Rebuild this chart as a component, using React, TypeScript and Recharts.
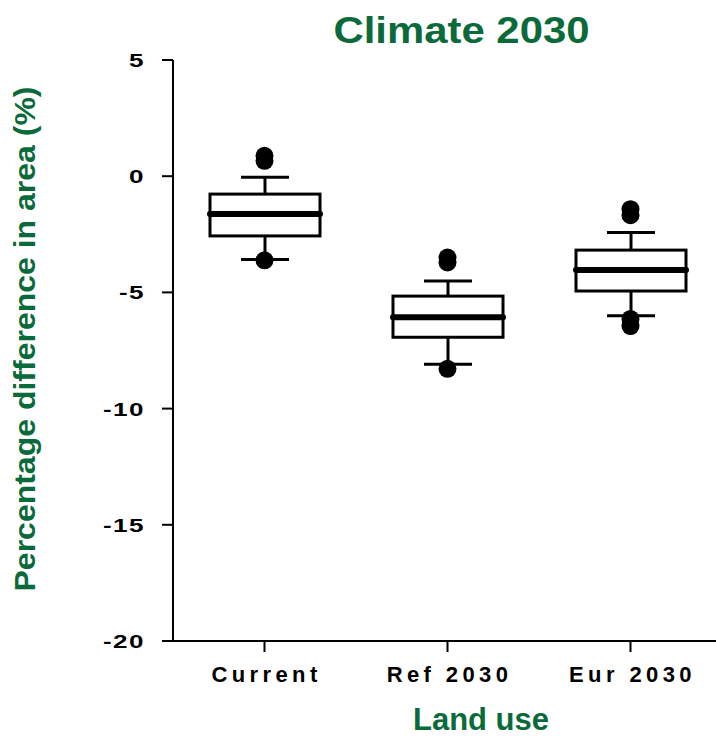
import React from "react";
import {
  ComposedChart, Bar, Scatter, XAxis, YAxis, Label,
} from "recharts";

const categories = ["Current", "Ref 2030", "Eur 2030"];
const whiskerLow = [-3.58, -8.09, -6.0];
const q1 = [-2.57, -6.93, -4.94];
const median = [-1.63, -6.07, -4.04];
const q3 = [-0.77, -5.16, -3.18];
const whiskerHigh = [-0.05, -4.51, -2.42];
const outlierValues = [
  [0.88, 0.66, -3.62],
  [-3.5, -3.71, -8.29],
  [-1.42, -1.68, -6.14, -6.45],
];
const yTicks = [5, 0, -5, -10, -15, -20];

const GREEN = "#0b6a3a";
const FONT = "'Liberation Sans', Arial, sans-serif";

const boxes = categories.map((name, i) => ({
  name,
  low: whiskerLow[i],
  q1: q1[i],
  median: median[i],
  q3: q3[i],
  high: whiskerHigh[i],
}));

const outliers = categories.flatMap((name, i) =>
  outlierValues[i].map((value) => ({ name, value }))
);

// the bar spans low..high whisker; inner levels are placed on the same linear scale
function BoxShape(props: any) {
  const { x, y, width, height, payload } = props;
  if (!payload) return null;
  const top = Math.min(y, y + height);
  const bottom = Math.max(y, y + height);
  const { low, high } = payload;
  const py = (v: number) => bottom - ((v - low) / (high - low)) * (bottom - top);
  const cx = x + width / 2;
  const capHalf = 24;
  return (
    <g stroke="#000" fill="none">
      <line x1={cx} x2={cx} y1={py(high)} y2={py(payload.q3)} strokeWidth={3} />
      <line x1={cx} x2={cx} y1={py(payload.q1)} y2={py(low)} strokeWidth={3} />
      <line x1={cx - capHalf} x2={cx + capHalf} y1={py(high)} y2={py(high)} strokeWidth={3} />
      <line x1={cx - capHalf} x2={cx + capHalf} y1={py(low)} y2={py(low)} strokeWidth={3} />
      <rect
        x={x}
        y={py(payload.q3)}
        width={width}
        height={py(payload.q1) - py(payload.q3)}
        fill="#fff"
        strokeWidth={3}
      />
      <line
        x1={x}
        x2={x + width}
        y1={py(payload.median)}
        y2={py(payload.median)}
        strokeWidth={6}
        strokeLinecap="round"
      />
    </g>
  );
}

function Dot(props: any) {
  return <circle cx={props.cx} cy={props.cy} r={9} fill="#000" />;
}

// y labels use wide digits, so the glyphs are stretched sideways
function YTick(props: any) {
  const { x, y, payload } = props;
  return (
    <text
      transform={`translate(${x - 15},${y + 7}) scale(1.45,1)`}
      textAnchor="end"
      fontFamily={FONT}
      fontWeight="bold"
      fontSize={18}
      letterSpacing={1}
      fill="#000"
    >
      {payload.value}
    </text>
  );
}

function XTick(props: any) {
  const { x, y, payload } = props;
  return (
    <text
      x={x + 2}
      y={y + 28}
      textAnchor="middle"
      fontFamily={FONT}
      fontWeight="bold"
      fontSize={22}
      letterSpacing={4.4}
      fill="#000"
    >
      {payload.value}
    </text>
  );
}

export default function App() {
  return (
    <div
      style={{
        position: "absolute",
        left: 0,
        top: 0,
        width: 716,
        height: 736,
        overflow: "hidden",
        background: "#fff",
      }}
    >
      <ComposedChart
        width={722}
        height={736}
        data={boxes}
        margin={{ top: 60, right: 0, bottom: 0, left: 0 }}
      >
        <text
          x={461.5}
          y={43}
          textAnchor="middle"
          fontFamily={FONT}
          fontWeight="bold"
          fontSize={36}
          textLength={256}
          lengthAdjust="spacingAndGlyphs"
          fill={GREEN}
        >
          Climate 2030
        </text>
        <XAxis
          dataKey="name"
          type="category"
          allowDuplicatedCategory={false}
          height={95}
          axisLine={{ stroke: "#000", strokeWidth: 2 }}
          tickLine={{ stroke: "#000", strokeWidth: 2 }}
          tickSize={11}
          tick={<XTick />}
        >
          <Label
            content={() => (
              <text
                x={481}
                y={730}
                textAnchor="middle"
                fontFamily={FONT}
                fontWeight="bold"
                fontSize={31}
                fill={GREEN}
              >
                Land use
              </text>
            )}
          />
        </XAxis>
        <YAxis
          type="number"
          domain={[-20, 5]}
          ticks={yTicks}
          interval={0}
          width={173}
          axisLine={{ stroke: "#000", strokeWidth: 2 }}
          tickLine={{ stroke: "#000", strokeWidth: 2 }}
          tickSize={11}
          tick={<YTick />}
        >
          <Label
            content={() => (
              <text
                x={35}
                y={339}
                transform="rotate(-90 35 339)"
                textAnchor="middle"
                fontFamily={FONT}
                fontWeight="bold"
                fontSize={29}
                textLength={505}
                lengthAdjust="spacingAndGlyphs"
                fill={GREEN}
              >
                Percentage difference in area (%)
              </text>
            )}
          />
        </YAxis>
        <Bar
          dataKey={(d: any) => [d.low, d.high]}
          barSize={110}
          shape={<BoxShape />}
          isAnimationActive={false}
        />
        <Scatter
          data={outliers}
          dataKey="value"
          shape={<Dot />}
          isAnimationActive={false}
        />
      </ComposedChart>
    </div>
  );
}
